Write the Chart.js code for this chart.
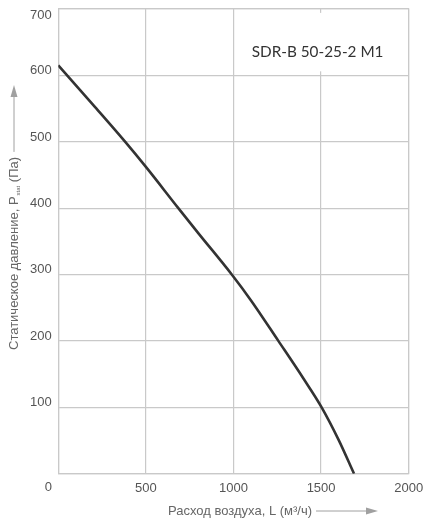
<!DOCTYPE html>
<html>
<head>
<meta charset="utf-8">
<script src="https://cdn.jsdelivr.net/npm/chart.js@4/dist/chart.umd.min.js"></script>
<style>
  html, body { margin: 0; padding: 0; background: #fff; }
  #wrap { width: 425px; height: 524px; }
</style>
</head>
<body>
<div id="wrap"><canvas id="fanChart" width="425" height="524"></canvas></div>
<script>
// кривая вентилятора SDR-B 50-25-2 M1
const modelName = 'SDR-B 50-25-2 M1';
const airFlow  = [0, 200, 381, 500, 685, 800, 990, 1100, 1256, 1400, 1503, 1600, 1688];
const pressure = [615, 555, 500, 462, 400, 362, 300, 261, 200, 143, 100, 51, 0];
const xTicks = [0, 500, 1000, 1500, 2000];
const yTicks = [0, 100, 200, 300, 400, 500, 600, 700];
const xTitle = 'Расход воздуха, L (м³/ч)';
const yTitleMain = 'Статическое давление, P';
const yTitleSub = 'stat';
const yTitleEnd = ' (Па)';

const gridColor = '#c9c9c9';
const tickColor = '#555';
const titleColor = '#666';
const arrowColor = '#a0a0a0';

function arrow(ctx, x1, y1, x2, y2) {
  const a = Math.atan2(y2 - y1, x2 - x1);
  const len = 12, w = 3.5;
  ctx.save();
  ctx.strokeStyle = arrowColor;
  ctx.fillStyle = arrowColor;
  ctx.lineWidth = 1;
  ctx.beginPath();
  ctx.moveTo(x1, y1);
  ctx.lineTo(x2 - Math.cos(a) * len, y2 - Math.sin(a) * len);
  ctx.stroke();
  ctx.beginPath();
  ctx.moveTo(x2, y2);
  ctx.lineTo(x2 - Math.cos(a) * len - Math.sin(a) * w, y2 - Math.sin(a) * len + Math.cos(a) * w);
  ctx.lineTo(x2 - Math.cos(a) * len + Math.sin(a) * w, y2 - Math.sin(a) * len - Math.cos(a) * w);
  ctx.closePath();
  ctx.fill();
  ctx.restore();
}

// подписи осей, стрелки и табличка с моделью
const decorPlugin = {
  id: 'decor',
  beforeDatasetsDraw(chart) {
    const ctx = chart.ctx;
    const xs = chart.scales.x, ys = chart.scales.y;
    // белая табличка поверх сетки
    const bx = xs.getPixelForValue(1500);
    const top = ys.getPixelForValue(694), bot = ys.getPixelForValue(606);
    ctx.save();
    ctx.fillStyle = '#fff';
    ctx.fillRect(bx - 75, top, 150, bot - top);
    ctx.fillStyle = '#333';
    ctx.font = '15.3px Lato, "Open Sans", sans-serif';
    ctx.textAlign = 'center';
    ctx.textBaseline = 'middle';
    ctx.fillText(modelName, bx - 3.5, ys.getPixelForValue(635));
    ctx.restore();
  },
  afterDraw(chart) {
    const ctx = chart.ctx;
    const xs = chart.scales.x, ys = chart.scales.y;
    ctx.save();
    ctx.fillStyle = tickColor;
    ctx.font = '13px "Liberation Sans", Arial, sans-serif';
    ctx.textAlign = 'right';
    ctx.textBaseline = 'middle';
    ctx.fillText('700', xs.left - 6.5, ys.getPixelForValue(700) + 7);
    ctx.textAlign = 'center';
    ctx.fillText('0', xs.getPixelForValue(0) - 10, ys.bottom + 13.5);

    // подпись оси X
    ctx.fillStyle = titleColor;
    ctx.font = '13px "Liberation Sans", Arial, sans-serif';
    ctx.textAlign = 'left';
    const tx = 168, ty = 511;
    ctx.fillText(xTitle, tx, ty);
    const tw = ctx.measureText(xTitle).width;
    arrow(ctx, tx + tw + 4, ty, 378, ty);

    // подпись оси Y (повёрнута)
    ctx.save();
    ctx.translate(14, 350);
    ctx.rotate(-Math.PI / 2);
    ctx.textAlign = 'left';
    ctx.font = '13px "Liberation Sans", Arial, sans-serif';
    ctx.fillText(yTitleMain, 0, 0);
    let w = ctx.measureText(yTitleMain).width;
    ctx.font = '6px "Liberation Sans", Arial, sans-serif';
    ctx.fillText(yTitleSub, w + 1, 4);
    w += ctx.measureText(yTitleSub).width + 1;
    ctx.font = '13px "Liberation Sans", Arial, sans-serif';
    ctx.fillText(yTitleEnd, w, 0);
    w += ctx.measureText(yTitleEnd).width;
    ctx.restore();
    arrow(ctx, 14, 350 - w - 5, 14, 85);
    ctx.restore();
  }
};

function noPad(s) {
  s.paddingTop = 0; s.paddingBottom = 0; s.paddingLeft = 0; s.paddingRight = 0;
}

new Chart(document.getElementById('fanChart'), {
  type: 'line',
  data: {
    datasets: [{
      data: airFlow.map((l, i) => ({ x: l, y: pressure[i] })),
      borderColor: '#333',
      borderWidth: 2.6,
      pointRadius: 0,
      fill: false,
      cubicInterpolationMode: 'monotone'
    }]
  },
  options: {
    responsive: false,
    animation: false,
    layout: { padding: { top: 8.9, right: 16.3, left: 0, bottom: 0 } },
    plugins: { legend: { display: false }, tooltip: { enabled: false } },
    scales: {
      x: {
        type: 'linear',
        min: 0, max: 2000,
        afterBuildTicks: s => { s.ticks = xTicks.map(v => ({ value: v })); },
        afterFit: s => { s.height = 50.3; noPad(s); },
        grid: { color: gridColor, lineWidth: 1.2, drawTicks: false },
        border: { color: gridColor, width: 1.2 },
        ticks: {
          padding: 7,
          color: tickColor,
          font: { family: '"Liberation Sans", Arial, sans-serif', size: 13 },
          maxRotation: 0,
          callback: v => (v === 0 ? '' : v)
        }
      },
      y: {
        min: 0, max: 700,
        afterBuildTicks: s => { s.ticks = yTicks.map(v => ({ value: v })); },
        afterFit: s => { s.width = 58.3; noPad(s); },
        grid: { color: gridColor, lineWidth: 1.2, drawTicks: false },
        border: { color: gridColor, width: 1.2 },
        ticks: {
          padding: 6.5,
          labelOffset: -4.6,
          color: tickColor,
          font: { family: '"Liberation Sans", Arial, sans-serif', size: 13 },
          callback: v => (v === 0 || v === 700 ? '' : v)
        }
      },
      x2: {
        type: 'linear', position: 'top', min: 0, max: 2000,
        display: true,
        afterFit: s => { s.height = 0; noPad(s); },
        grid: { display: false },
        border: { color: gridColor, width: 1.2 },
        ticks: { display: false }
      },
      y2: {
        type: 'linear', position: 'right', min: 0, max: 700,
        display: true,
        afterFit: s => { s.width = 0; noPad(s); },
        grid: { display: false },
        border: { color: gridColor, width: 1.2 },
        ticks: { display: false }
      }
    }
  },
  plugins: [decorPlugin]
});
</script>
</body>
</html>
